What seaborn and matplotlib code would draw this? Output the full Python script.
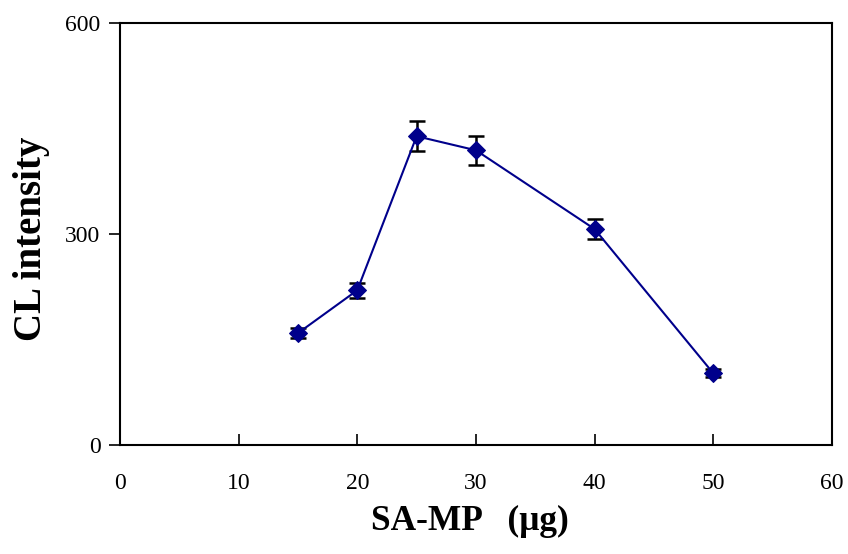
import matplotlib
matplotlib.use("Agg")
import matplotlib.pyplot as plt
import seaborn as sns
import pandas as pd

amount = [15, 20, 25, 30, 40, 50]
intensity = [159, 220, 439, 419, 307, 102]
err = [7, 11, 21, 21, 14, 6]
x_ticks = [0, 10, 20, 30, 40, 50, 60]
y_ticks = [0, 300, 600]

sns.set_theme(style="white")
plt.rcParams['font.family'] = ['Liberation Serif', 'DejaVu Serif']

df = pd.DataFrame({"x": amount, "y": intensity, "e": err})

fig = plt.figure(figsize=(8.48, 5.54), dpi=100)
ax = fig.add_axes([0.1415, 0.1968, 0.8395, 0.7617])

ax.errorbar(df["x"], df["y"], yerr=df["e"], fmt="none", ecolor="black",
            elinewidth=1.8, capsize=5.5, capthick=1.8, zorder=2)
sns.lineplot(data=df, x="x", y="y", ax=ax, color="#00008B", linewidth=1.5,
             marker="D", markersize=9.5, markeredgecolor="#00008B",
             markerfacecolor="#00008B", zorder=3)

ax.set_xlim(0, 60)
ax.set_ylim(0, 600)
ax.set_xticks(x_ticks)
ax.set_yticks(y_ticks)
ax.tick_params(axis="x", direction="in", length=8, width=1.2, labelsize=17, pad=20, colors="black")
ax.tick_params(axis="y", direction="out", length=8, width=1.2, labelsize=17, pad=6, colors="black")
ax.tick_params(left=True, bottom=True)
for s in ax.spines.values():
    s.set_visible(True)
    s.set_color("black")
    s.set_linewidth(1.5)

ax.set_xlabel("SA-MP   (\u03bcg)", fontsize=25.5, fontweight="bold", color="black")
ax.set_ylabel("CL intensity", fontsize=28, fontweight="bold", color="black")
ax.xaxis.set_label_coords(0.492, -0.142)
ax.yaxis.set_label_coords(-0.098, 0.488)

fig.savefig("out.png", dpi=100, facecolor="white")
